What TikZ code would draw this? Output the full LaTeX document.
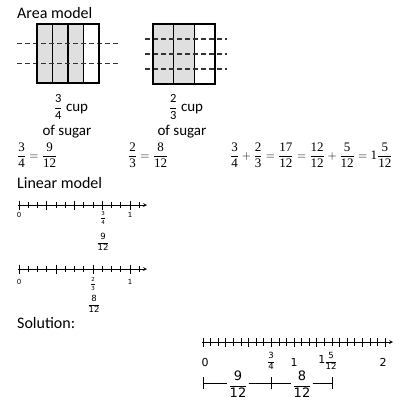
\documentclass[tikz,border=0pt]{standalone}
\usepackage{amsmath}
\usepackage{fontspec}
\setmainfont{Carlito}
\newfontfamily\eqfont{Liberation Serif}
\newfontfamily\numfont{DejaVu Sans}
\newcommand{\fr}[2]{\ensuremath{\genfrac{}{}{0.5pt}{0}{\hbox{#1}}{\hbox{#2}}}}
\newcommand{\tfr}[2]{\ensuremath{\genfrac{}{}{0.4pt}{0}{\hbox{#1}}{\hbox{#2}}}}
\tikzset{
    head/.style={font=\fontsize{16}{18}\selectfont, anchor=base west, inner sep=0pt},
    lbl/.style={font=\fontsize{15}{17}\selectfont, inner sep=0pt},
    eq/.style={font=\eqfont\fontsize{13}{15}\selectfont, anchor=west, inner sep=0pt},
    tinynum/.style={font=\numfont\fontsize{7}{8}\selectfont, inner sep=0pt},
    smallnum/.style={font=\numfont\fontsize{11}{12}\selectfont, inner sep=0pt},
    bignum/.style={font=\numfont\fontsize{13}{15}\selectfont, inner sep=1pt},
    cutline/.style={line width=1.1pt, dash pattern=on 5pt off 3pt, black!80},
    boxline/.style={line width=1.5pt},
    axisline/.style={line width=0.7pt, ->},
}
\begin{document}
\begin{tikzpicture}[x=1pt, y=-1pt, >=stealth]
    \useasboundingbox (0,0) rectangle (394,409);

    \node[head] (areahead) at (17,19) {Area model};

    \fill[gray!25] (37,24) rectangle (83.5,83);
    \foreach \xx in {52.5,68,83.5} {
        \draw[line width=1.1pt] (\xx,24) -- (\xx,83);
    }
    \foreach \yy in {43.7,63.3} {
        \draw[cutline] (17,\yy) -- (118,\yy);
    }
    \draw[boxline] (37,24) rectangle (99,83);
    \node[lbl, anchor=base] (cupA) at (71,111) {{\fontsize{12.5}{13}\selectfont\fr{3}{4}} cup};
    \node[lbl, anchor=base] (sugarA) at (67,135) {of sugar};

    \fill[gray!25] (153,24) rectangle (194.3,84);
    \foreach \xx in {173.7,194.3} {
        \draw[line width=1.1pt] (\xx,24) -- (\xx,84);
    }
    \foreach \yy in {39,54,69} {
        \draw[cutline] (145,\yy) -- (227,\yy);
    }
    \draw[boxline] (153,24) rectangle (215,84);
    \node[lbl, anchor=base] (cupB) at (186,111) {{\fontsize{12.5}{13}\selectfont\fr{2}{3}} cup};
    \node[lbl, anchor=base] (sugarB) at (182,135) {of sugar};

    \node[eq] (eqA) at (17,155) {$\fr{3}{4}=\fr{9}{12}$};
    \node[eq] (eqB) at (128,155) {$\fr{2}{3}=\fr{8}{12}$};
    \node[eq] (eqC) at (230,155)
        {$\fr{3}{4}+\fr{2}{3}=\fr{17}{12}=\fr{12}{12}+\fr{5}{12}=\hbox{1}\fr{5}{12}$};

    \node[head] (linhead) at (17,188) {Linear model};

    \begin{scope}[shift={(19,205)}]
        \coordinate (lineAstart) at (-1,0);
        \coordinate (lineAend) at (128,0);
        \draw[axisline] (lineAstart) -- (lineAend);
        \foreach \k in {0,...,13} {
            \draw[line width=0.6pt] ({\k*111/12},-3) -- ({\k*111/12},3);
        }
        \foreach \k in {0,...,4} {
            \draw[line width=0.6pt] ({\k*111/4},-4.5) -- ({\k*111/4},4.5);
        }
        \node[tinynum] (zeroA) at (0,10) {0};
        \node[tinynum] (oneA) at (111,10) {1};
        \node[tinynum, font=\numfont\fontsize{5.5}{6}\selectfont] (quarterA) at (84,13) {\tfr{3}{4}};
        \node[tinynum, font=\numfont\fontsize{8.5}{9}\selectfont] (ninthA) at (84,37) {\tfr{9}{12}};
    \end{scope}

    \begin{scope}[shift={(19,269)}]
        \coordinate (lineBstart) at (-1,0);
        \coordinate (lineBend) at (128,0);
        \draw[axisline] (lineBstart) -- (lineBend);
        \foreach \k in {0,...,13} {
            \draw[line width=0.6pt] ({\k*111/12},-3) -- ({\k*111/12},3);
        }
        \foreach \k in {0,...,3} {
            \draw[line width=0.6pt] ({\k*111/3},-4.5) -- ({\k*111/3},4.5);
        }
        \node[tinynum] (zeroB) at (0,13) {0};
        \node[tinynum] (oneB) at (111,13) {1};
        \node[tinynum, font=\numfont\fontsize{5.5}{6}\selectfont] (thirdB) at (74,15) {\tfr{2}{3}};
        \node[tinynum, font=\numfont\fontsize{8.5}{9}\selectfont] (eighthB) at (75,35) {\tfr{8}{12}};
    \end{scope}

    \node[head] (solhead) at (17,328) {Solution:};

    \begin{scope}[shift={(203,342)}]
        \coordinate (lineCstart) at (-1,0);
        \coordinate (lineCend) at (190,0);
        \draw[axisline] (lineCstart) -- (lineCend);
        \foreach \k in {0,...,24} {
            \draw[line width=0.6pt] ({\k*91/12},-4) -- ({\k*91/12},4);
        }
        \foreach \k in {0,...,8} {
            \draw[line width=0.8pt] ({\k*91/4},-4.5) -- ({\k*91/4},4.5);
        }
        \node[smallnum] (zeroC) at (2,20) {0};
        \node[smallnum] (oneC) at (91,20) {1};
        \node[smallnum] (twoC) at (180,20) {2};
        \node[smallnum, font=\numfont\fontsize{8.5}{9}\selectfont] (quarterC) at (68,19) {\tfr{3}{4}};
        \node[smallnum] (mixedC) at (125,19)
            {1\hspace{-1pt}{\fontsize{8.5}{9}\selectfont\tfr{5}{12}}};

        \coordinate (brA) at (0,41);
        \coordinate (brB) at (68.25,41);
        \coordinate (brC) at (129,41);
        \foreach \pt in {brA,brB,brC} {
            \draw[line width=0.8pt] ([yshift=-6pt]\pt) -- ([yshift=6pt]\pt);
        }
        \node[bignum] (spanA) at (35,42) {\tfr{9}{12}};
        \node[bignum] (spanB) at (99,42) {\tfr{8}{12}};
        \draw[line width=0.8pt] (brA) -- (spanA.west |- brA);
        \draw[line width=0.8pt] (spanA.east |- brA) -- (brB);
        \draw[line width=0.8pt] (brB) -- (spanB.west |- brB);
        \draw[line width=0.8pt] (spanB.east |- brB) -- (brC);
    \end{scope}
\end{tikzpicture}
\end{document}
